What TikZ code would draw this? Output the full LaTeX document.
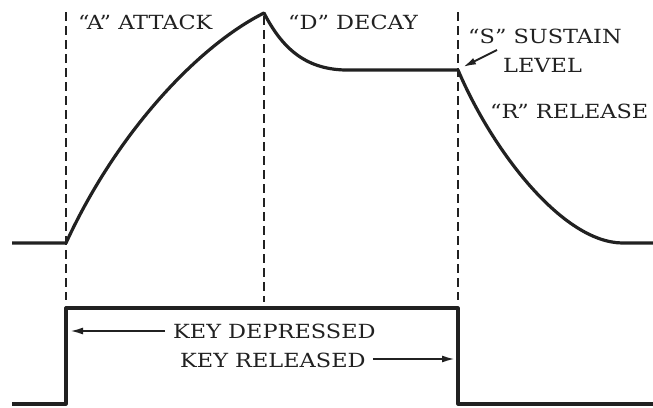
\documentclass[tikz,border=0pt]{standalone}
\usepackage{fontspec}
\setmainfont{DejaVu Serif}[FakeStretch=1.15]
\usepackage{tikz}
\usetikzlibrary{arrows.meta}
\definecolor{ink}{rgb}{0.13, 0.13, 0.13}

\begin{document}
\begin{tikzpicture}[x=1pt, y=-1pt, draw=ink, text=ink,
		curve/.style = {line width=3.2pt, line join=round},
		guide/.style = {line width=2.8pt, dash pattern=on 9pt off 5pt},
		lbl/.style = {anchor=base west, inner sep=0pt, font=\fontsize{19.5}{22}\selectfont},
		pointer/.style = {line width=2pt, -{Latex[length=13pt, width=7pt]}}]
		\useasboundingbox (0, 0) rectangle (653, 407);
		% envelope points
		\coordinate (left) at (12, 243);
		\coordinate (start) at (66, 243);
		\coordinate (peak) at (264, 13);
		\coordinate (hold) at (345, 70);
		\coordinate (sus) at (458, 70);
		\coordinate (floor) at (622, 243);
		\coordinate (right) at (653, 243);
		% envelope
		\draw[curve] (left) -- (start)
			.. controls (118, 130) and (200, 45) .. (peak)
			.. controls (282, 48) and (305, 69) .. (hold)
			-- (sus)
			.. controls (492, 150) and (562, 242) .. (floor)
			-- (right);
		% gate
		\coordinate (g0) at (12, 404);
		\coordinate (g1) at (66, 404);
		\coordinate (g2) at (66, 308);
		\coordinate (g3) at (458, 308);
		\coordinate (g4) at (458, 404);
		\coordinate (g5) at (653, 404);
		\draw[curve] (g0) -- (g1) -- (g2) -- (g3) -- (g4) -- (g5);
		% dashed guides
		\draw[guide] (66, 12) -- (66, 300);
		\draw[guide] (264, 16) -- (264, 302);
		\draw[guide] (458, 12) -- (458, 300);
		% labels
		\node[lbl] (attack) at (78, 29) {“A” ATTACK};
		\node[lbl] (decay) at (288, 29) {“D” DECAY};
		\node[lbl] (sustain) at (468, 43) {“S” SUSTAIN};
		\node[lbl] (level) at (503, 72) {LEVEL};
		\node[lbl] (release) at (490, 118) {“R” RELEASE};
		\node[lbl] (down) at (173, 338) {KEY DEPRESSED};
		\node[lbl] (up) at (180, 367) {KEY RELEASED};
		% arrows
		\coordinate (susarr) at (463, 67);
		\coordinate (downarr) at (70, 331);
		\coordinate (uparr) at (455, 359);
		\draw[pointer] (497, 50) -- (susarr);
		\draw[pointer] (down.west |- downarr) ++(-8, 0) -- (downarr);
		\draw[pointer] (up.east |- uparr) ++(7, 0) -- (uparr);
	\end{tikzpicture}
\end{document}
